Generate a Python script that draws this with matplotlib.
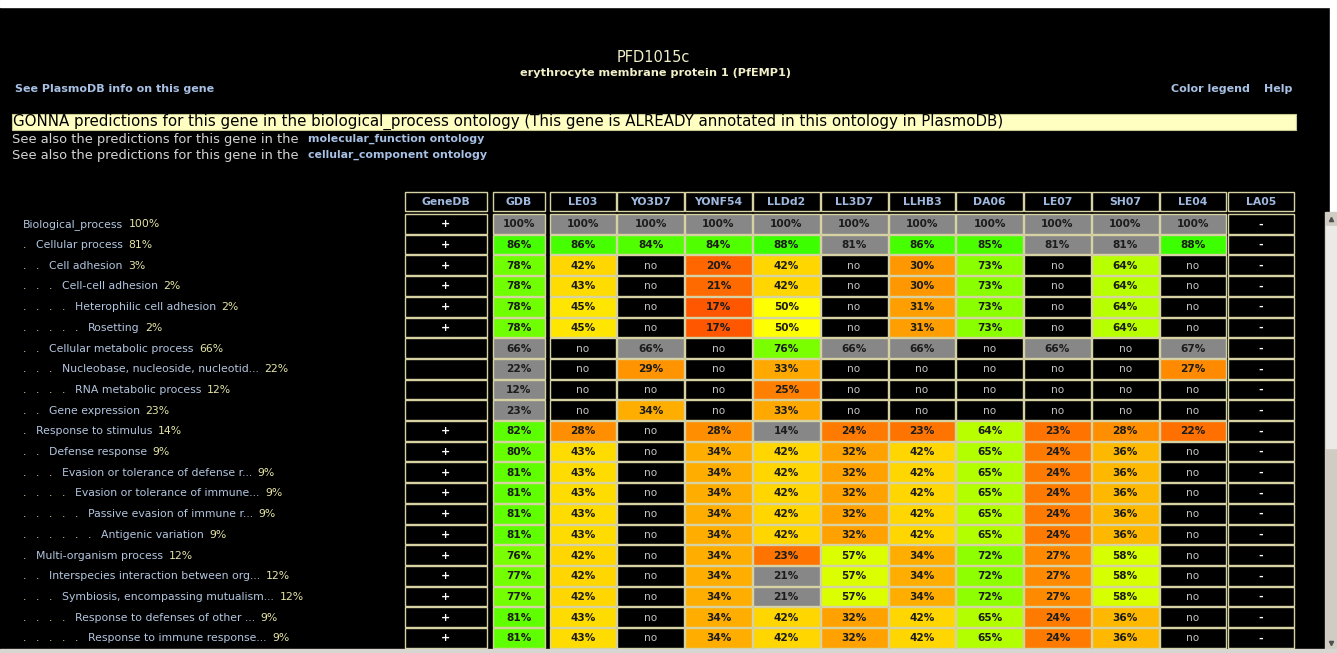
import matplotlib
matplotlib.use('Agg')
import matplotlib.pyplot as plt
from matplotlib.patches import Rectangle
from matplotlib.colors import LinearSegmentedColormap, Normalize

gene_id = 'PFD1015c'
gene_name = 'erythrocyte membrane protein 1 (PfEMP1)'
ontology = 'biological_process'
other_ontologies = ['molecular_function ontology', 'cellular_component ontology']

methods = ['GDB', 'LE03', 'YO3D7', 'YONF54', 'LLDd2', 'LL3D7', 'LLHB3',
           'DA06', 'LE07', 'SH07', 'LE04']

terms = ['Biological_process', 'Cellular process', 'Cell adhesion',
         'Cell-cell adhesion', 'Heterophilic cell adhesion', 'Rosetting',
         'Cellular metabolic process', 'Nucleobase, nucleoside, nucleotid...',
         'RNA metabolic process', 'Gene expression', 'Response to stimulus',
         'Defense response', 'Evasion or tolerance of defense r...',
         'Evasion or tolerance of immune...', 'Passive evasion of immune r...',
         'Antigenic variation', 'Multi-organism process',
         'Interspecies interaction between org...',
         'Symbiosis, encompassing mutualism...',
         'Response to defenses of other ...', 'Response to immune response...']
levels = [0, 1, 2, 3, 4, 5, 2, 3, 4, 2, 1, 2, 3, 4, 5, 6, 1, 2, 3, 4, 5]
term_freq = [100, 81, 3, 2, 2, 2, 66, 22, 12, 23, 14, 9, 9, 9, 9, 9, 12, 12, 12, 9, 9]
genedb = ['+'] * 6 + [''] * 4 + ['+'] * 11

N = None  # "no" prediction
scores = [
    [100, 100, 100, 100, 100, 100, 100, 100, 100, 100, 100],
    [86, 86, 84, 84, 88, 81, 86, 85, 81, 81, 88],
    [78, 42, N, 20, 42, N, 30, 73, N, 64, N],
    [78, 43, N, 21, 42, N, 30, 73, N, 64, N],
    [78, 45, N, 17, 50, N, 31, 73, N, 64, N],
    [78, 45, N, 17, 50, N, 31, 73, N, 64, N],
    [66, N, 66, N, 76, 66, 66, N, 66, N, 67],
    [22, N, 29, N, 33, N, N, N, N, N, 27],
    [12, N, N, N, 25, N, N, N, N, N, N],
    [23, N, 34, N, 33, N, N, N, N, N, N],
    [82, 28, N, 28, 14, 24, 23, 64, 23, 28, 22],
    [80, 43, N, 34, 42, 32, 42, 65, 24, 36, N],
    [81, 43, N, 34, 42, 32, 42, 65, 24, 36, N],
    [81, 43, N, 34, 42, 32, 42, 65, 24, 36, N],
    [81, 43, N, 34, 42, 32, 42, 65, 24, 36, N],
    [81, 43, N, 34, 42, 32, 42, 65, 24, 36, N],
    [76, 42, N, 34, 23, 57, 34, 72, 27, 58, N],
    [77, 42, N, 34, 21, 57, 34, 72, 27, 58, N],
    [77, 42, N, 34, 21, 57, 34, 72, 27, 58, N],
    [81, 43, N, 34, 42, 32, 42, 65, 24, 36, N],
    [81, 43, N, 34, 42, 32, 42, 65, 24, 36, N],
]
# cells shown in grey (not above background)
grey_cells = ([(0, m) for m in methods] +
              [(1, 'LL3D7'), (1, 'LE07'), (1, 'SH07'),
               (6, 'GDB'), (6, 'YO3D7'), (6, 'LL3D7'), (6, 'LLHB3'), (6, 'LE07'), (6, 'LE04'),
               (7, 'GDB'), (8, 'GDB'), (9, 'GDB'),
               (10, 'LLDd2'), (17, 'LLDd2'), (18, 'LLDd2')])

# ---- colours / fonts
BG = '#000000'
GRID = '#d6d2a4'
GREY = '#878787'
LINK = '#a7c0e4'
LABEL = '#b3c6df'
PCT = '#e6e4a6'
cmap = LinearSegmentedColormap.from_list('ryg', ['#ff0000', '#ffff00', '#00ff00'])
norm = Normalize(0, 100)
plt.rcParams['font.family'] = ['DejaVu Sans']

fig = plt.figure(figsize=(13.37, 6.53), dpi=100, facecolor=BG)
ax = fig.add_axes([0, 0, 1, 1])
ax.set_xlim(0, 1337)
ax.set_ylim(653, 0)
ax.axis('off')

# window chrome
ax.add_patch(Rectangle((0, 0), 1337, 7, color='white', zorder=5))
ax.add_patch(Rectangle((1330, 0), 7, 212, color='white', zorder=5))
ax.add_patch(Rectangle((1325, 212), 12, 438, color='#d0ccc4', zorder=5))
ax.add_patch(Rectangle((1326, 226), 10, 222, color='#eceae6', zorder=6))
ax.plot([1331], [219], marker='^', ms=3, color='#505050', zorder=7)
ax.plot([1331], [643], marker='v', ms=3, color='#505050', zorder=7)
ax.add_patch(Rectangle((0, 649), 1337, 4, color='#d8d6d0', zorder=5))

# page header
ax.text(653, 58, gene_id, color='#f2f0c8', fontsize=10.5, ha='center', va='center')
ax.text(655, 73, gene_name, color='#f2f0c8', fontsize=8.1, fontweight='bold',
        ha='center', va='center')
ax.text(15, 89, 'See PlasmoDB info on this gene', color=LINK, fontsize=8.0,
        fontweight='bold', va='center')
ax.text(1250, 89, 'Color legend', color=LINK, fontsize=8.0, fontweight='bold',
        ha='right', va='center')
ax.text(1292, 89, 'Help', color=LINK, fontsize=8.0, fontweight='bold',
        ha='right', va='center')

ax.add_patch(Rectangle((12, 114), 1284, 16, facecolor='#ffffc2', edgecolor='#c8c890', lw=0.8))
ax.text(13, 121.8, f'GONNA predictions for this gene in the {ontology} ontology '
        '(This gene is ALREADY annotated in this ontology in PlasmoDB)',
        color='black', fontsize=10.8, va='center')
for k, name in enumerate(other_ontologies):
    y = 139 + 16 * k
    t = ax.text(12, y, 'See also the predictions for this gene in the',
                color='#d4d4d4', fontsize=9.4, va='center')
    ax.annotate(name, xy=(1, 0.5), xycoords=t, xytext=(6.5, 0), textcoords='offset points',
                color=LINK, fontsize=7.9, fontweight='bold', va='center')

# ---- table geometry
ROW_TOP, ROW_H = 213.5, 20.7
HEAD_TOP, HEAD_H = 191, 20.5
col_edges = [(404, 83), (492, 53.5)]
MAIN_X, MAIN_W = 549, 67.8
for i in range(len(methods)):
    col_edges.append((MAIN_X + i * MAIN_W, MAIN_W))
headers = ['GeneDB'] + methods + ['LA05']


def cell(x, y, w, h, fc):
    ax.add_patch(Rectangle((x + 0.5, y + 0.5), w - 1, h - 1, facecolor=fc,
                           edgecolor=GRID, lw=1.0))


for j, (x, w) in enumerate(col_edges):
    cell(x, HEAD_TOP, w, HEAD_H, BG)
    ax.text(x + w / 2, HEAD_TOP + HEAD_H / 2 + 0.5, headers[j], color='#9fb9df',
            fontsize=7.8, fontweight='bold', ha='center', va='center')

grey_set = set(grey_cells)
for r, term in enumerate(terms):
    y = ROW_TOP + r * ROW_H
    yc = y + ROW_H / 2 + 0.5
    # tree label
    for d in range(levels[r]):
        ax.text(23 + 13 * d, yc, '.', color=PCT, fontsize=7.8, va='center')
    lab = ax.text(23 + 13 * levels[r], yc, term, color=LABEL, fontsize=7.8, va='center')
    ax.annotate(f'{term_freq[r]}%', xy=(1, 0.5), xycoords=lab, xytext=(4, 0),
                textcoords='offset points', color=PCT, fontsize=7.8, va='center')
    # GeneDB
    x, w = col_edges[0]
    cell(x, y, w, ROW_H, BG)
    ax.text(x + w / 2, yc, genedb[r], color='white', fontsize=8, fontweight='bold',
            ha='center', va='center')
    # predictions
    for j, m in enumerate(methods):
        x, w = col_edges[j + 1]
        v = scores[r][j]
        if v is None:
            cell(x, y, w, ROW_H, BG)
            ax.text(x + w / 2, yc, 'no', color='#c4c4c4', fontsize=7.6,
                    ha='center', va='center')
        else:
            fc = GREY if (r, m) in grey_set else cmap(norm(v))
            cell(x, y, w, ROW_H, fc)
            ax.text(x + w / 2, yc, f'{v}%', color='#1c1c1c', fontsize=7.6,
                    fontweight='bold', ha='center', va='center')
    x, w = col_edges[-1]
    cell(x, y, w, ROW_H, BG)
    ax.text(x + w / 2, yc, '-', color='white', fontsize=8, fontweight='bold',
            ha='center', va='center')

fig.savefig('out.png', dpi=100, facecolor=BG)
